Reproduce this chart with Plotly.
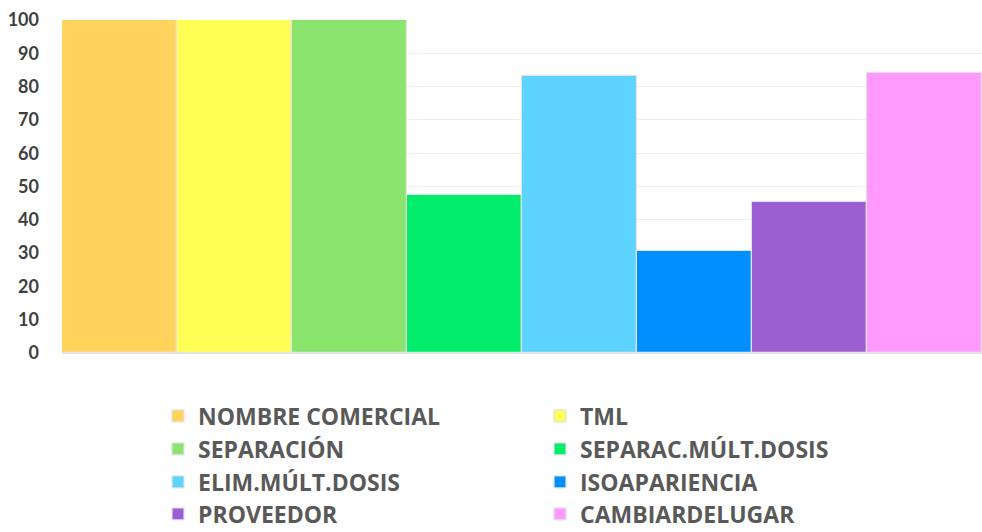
import plotly.graph_objects as go

categories = ["NOMBRE COMERCIAL", "TML", "SEPARACIÓN", "SEPARAC.MÚLT.DOSIS",
              "ELIM.MÚLT.DOSIS", "ISOAPARIENCIA", "PROVEEDOR", "CAMBIARDELUGAR"]
values = [100, 100, 100, 47.5, 83.2, 30.5, 45.3, 84.2]
colors = ["#FFD35C", "#FFFF55", "#8AE46E", "#00EE6C",
          "#5CD4FF", "#008FFF", "#9C5FD2", "#FF99FF"]
y_ticks = [0, 10, 20, 30, 40, 50, 60, 70, 80, 90, 100]

fig = go.Figure()
legend_ids = ["legend"] + ["legend%d" % (i + 1) for i in range(1, 8)]
for i, (c, v, col) in enumerate(zip(categories, values, colors)):
    fig.add_trace(go.Bar(
        x=[i], y=[v], width=1, name=c,
        marker=dict(color=col, line=dict(color="#E3E3E3", width=1.2)),
        legend=legend_ids[i],
    ))

PL, PR, PT, PB = 62, 982, 20, 353
W = PR - PL
H = PB - PT
rows_px = [416, 449, 482, 514]
cols_text_px = [198, 580]
legends = {}
for i, lid in enumerate(legend_ids):
    r, c = divmod(i, 2)
    legends[lid] = dict(
        orientation="v",
        font=dict(family="Open Sans", size=23, color="#595959", weight="bold"),
        bgcolor="rgba(0,0,0,0)", borderwidth=0,
        xanchor="left", yanchor="middle",
        x=(cols_text_px[c] - 40 - PL) / W,
        y=(PB - rows_px[r]) / H,
    )

fig.update_layout(
    width=982, height=532,
    margin=dict(l=PL, r=982 - PR, t=PT, b=532 - PB, autoexpand=False),
    paper_bgcolor="white", plot_bgcolor="white",
    barmode="overlay", bargap=0,
    showlegend=True,
    xaxis=dict(range=[-0.5, 7.5], showticklabels=False, showgrid=False,
               zeroline=False, showline=True, linecolor="#E3E3E3", linewidth=1,
               fixedrange=True),
    yaxis=dict(range=[0, 100], tickvals=y_ticks, showgrid=True,
               gridcolor="#EEEEEE", gridwidth=1, zeroline=False,
               ticklabelstandoff=22,
               tickfont=dict(family="Lato", size=18, color="#404040", weight="bold")),
    **legends,
)

fig.write_html("out.html")
